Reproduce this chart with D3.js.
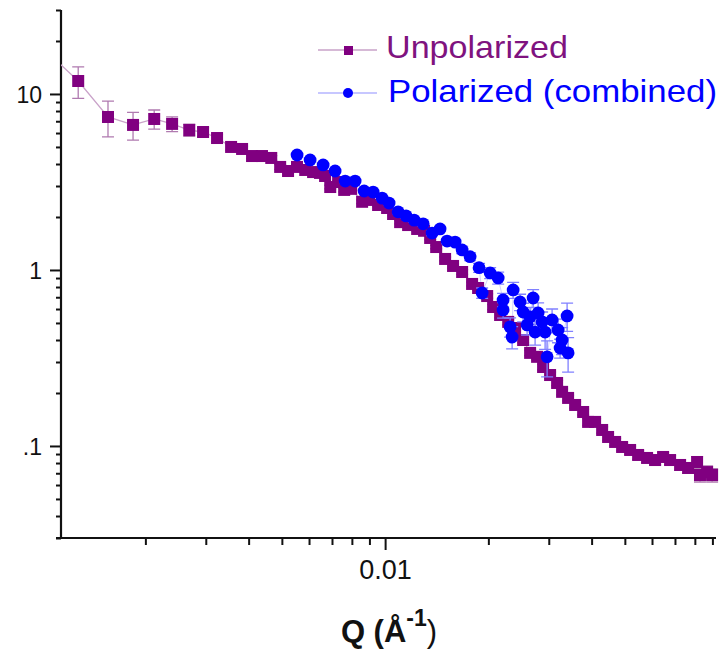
<!DOCTYPE html>
<html>
<head>
<meta charset="utf-8">
<script src="https://cdn.jsdelivr.net/npm/d3@7"></script>
<style>
  body { margin: 0; background: #fff; }
  svg { font-family: "Liberation Sans", Arial, sans-serif; }
</style>
</head>
<body>
<div id="chart"></div>
<script>
// Unpolarized SANS curve
const qUnpol = [0.001021, 0.001274, 0.001556, 0.001841, 0.002122, 0.002393, 0.002685, 0.002946, 0.003236, 0.003556,
  0.003828, 0.004093, 0.004375, 0.004656, 0.004943, 0.005212, 0.005534, 0.005848, 0.006166, 0.006457,
  0.006683, 0.006918, 0.007295, 0.007597, 0.007962, 0.008569, 0.00898, 0.00954, 0.010135, 0.01055,
  0.01106, 0.01167, 0.0124, 0.01299, 0.01353, 0.01409, 0.01496, 0.01578, 0.01677, 0.01793,
  0.01867, 0.01984, 0.02065, 0.02164, 0.02285, 0.02393, 0.02526, 0.02647, 0.02774, 0.02888,
  0.03027, 0.03173, 0.03281, 0.03416, 0.03581, 0.03779, 0.03907, 0.04095, 0.04293, 0.04468,
  0.04684, 0.04909, 0.0518, 0.05466, 0.05805, 0.06126, 0.06464, 0.06775, 0.07245, 0.07645,
  0.08121, 0.0828, 0.08686, 0.08982];
const iUnpol = [17.8, 11.85, 7.4, 6.67, 7.21, 6.76, 6.24, 6.08, 5.62, 5.0,
  4.87, 4.44, 4.44, 4.33, 3.85, 3.65, 3.85, 3.7, 3.6, 3.56,
  3.42, 2.96, 3.16, 2.85, 2.89, 2.44, 2.5, 2.34, 2.25, 2.08,
  1.87, 1.8, 1.71, 1.67, 1.52, 1.35, 1.155, 1.054, 0.974, 0.833,
  0.79, 0.711, 0.616, 0.555, 0.507, 0.468, 0.4, 0.338, 0.321, 0.281,
  0.253, 0.228, 0.203, 0.1875, 0.171, 0.156, 0.137, 0.137, 0.1233, 0.1125,
  0.1054, 0.0987, 0.0949, 0.0889, 0.0855, 0.0832, 0.0866, 0.0832, 0.078, 0.075,
  0.0811, 0.0684, 0.0711, 0.0684];
const errUnpol = [3.0, 2.4, 1.7, 1.2, 0.9, 0.65, 0.5, 0.35, 0.25, 0.2,
  0.18, 0.15, 0.14, 0.13, 0.12, 0.1, 0.1, 0.1, 0.09, 0.09,
  0.08, 0.07, 0.07, 0.07, 0.06, 0.06, 0.05, 0.05, 0.05, 0.05,
  0.04, 0.04, 0.04, 0.04, 0.03, 0.03, 0.03, 0.03, 0.03, 0.02,
  0.02, 0.02, 0.02, 0.02, 0.02, 0.015, 0.015, 0.012, 0.012, 0.01,
  0.01, 0.008, 0.008, 0.007, 0.007, 0.006, 0.006, 0.006, 0.005, 0.005,
  0.005, 0.005, 0.005, 0.005, 0.005, 0.005, 0.005, 0.005, 0.005, 0.005,
  0.006, 0.006, 0.006, 0.006];

// Polarized (combined) curve
const qPol = [0.005537, 0.006043, 0.006596, 0.007147, 0.007647, 0.008175, 0.008686, 0.009226, 0.0098, 0.01027,
  0.01091, 0.01151, 0.01215, 0.01291, 0.01371, 0.01446, 0.01516, 0.016, 0.01677, 0.01769,
  0.01879, 0.01918, 0.02024, 0.02136, 0.02208, 0.02208, 0.02314, 0.02346, 0.02362, 0.02475,
  0.02526, 0.02594, 0.02647, 0.02701, 0.02737, 0.02793, 0.02869, 0.02927, 0.02967, 0.03068,
  0.03194, 0.03237, 0.03281, 0.03393, 0.03416];
const iPol = [4.5, 4.22, 3.95, 3.65, 3.2, 3.2, 2.81, 2.77, 2.56, 2.4,
  2.14, 2.03, 1.92, 1.83, 1.62, 1.71, 1.46, 1.44, 1.3, 1.19,
  1.03, 0.74, 0.962, 0.901, 0.676, 0.593, 0.475, 0.416, 0.77, 0.658,
  0.577, 0.487, 0.541, 0.693, 0.444, 0.57, 0.507, 0.444, 0.321, 0.52,
  0.456, 0.36, 0.4, 0.548, 0.338];
const errPol = [0.08, 0.08, 0.07, 0.07, 0.06, 0.06, 0.06, 0.05, 0.05, 0.05,
  0.05, 0.05, 0.05, 0.05, 0.05, 0.06, 0.05, 0.05, 0.06, 0.06,
  0.06, 0.05, 0.07, 0.07, 0.06, 0.06, 0.06, 0.06, 0.08, 0.07,
  0.07, 0.06, 0.07, 0.08, 0.07, 0.08, 0.07, 0.09, 0.074, 0.08,
  0.07, 0.044, 0.07, 0.1, 0.075];

const seriesNames = ["Unpolarized", "Polarized (combined)"];
const xTickValues = [0.01];
const xTickLabels = ["0.01"];
const yTickValues = [0.1, 1, 10];
const yTickLabels = ["0.1", "1", "10"];

const purple = "#800080", blue = "#0000ff";

const svg = d3.select("#chart").append("svg")
    .attr("width", 725)
    .attr("height", 651);

const margin = {left: 61, right: 716, top: 10, bottom: 538};

const x = d3.scaleLog().domain([0.001135, 0.0922]).range([margin.left, margin.right]);
const y = d3.scaleLog().domain([0.03, 30]).range([margin.bottom, margin.top]);

svg.append("clipPath").attr("id", "plotclip")
  .append("rect")
    .attr("x", margin.left).attr("y", margin.top - 6)
    .attr("width", margin.right - margin.left + 6).attr("height", margin.bottom - margin.top + 6);

// the source figure is cropped on the left, cutting off the leading "0" of "0.1"
svg.append("clipPath").attr("id", "leftcrop")
  .append("rect")
    .attr("x", 23 - margin.left).attr("y", -60)
    .attr("width", 200).attr("height", 120);

// axes: minor ticks first, then major with labels
const xMinor = x.ticks().filter(function(d) { return xTickValues.indexOf(+d.toPrecision(3)) < 0; });
const yMinor = y.ticks().filter(function(d) { return yTickValues.indexOf(+d.toPrecision(3)) < 0; });

const xAxisMinor = svg.append("g")
    .attr("transform", "translate(0," + margin.bottom + ")")
    .call(d3.axisBottom(x).tickValues(xMinor).tickSize(7).tickFormat(""));
const xAxisMajor = svg.append("g")
    .attr("transform", "translate(0," + margin.bottom + ")")
    .call(d3.axisBottom(x).tickValues(xTickValues).tickSize(12).tickPadding(10)
      .tickFormat(function(d, i) { return xTickLabels[i]; }));

const yAxisMinor = svg.append("g")
    .attr("transform", "translate(" + margin.left + ",0)")
    .call(d3.axisLeft(y).tickValues(yMinor).tickSize(5).tickFormat(""));
const yAxisMajor = svg.append("g")
    .attr("transform", "translate(" + margin.left + ",0)")
    .call(d3.axisLeft(y).tickValues(yTickValues).tickSize(11).tickPadding(8)
      .tickFormat(function(d, i) { return yTickLabels[i]; }));

svg.selectAll(".domain").attr("stroke", "#111").attr("stroke-width", 2.2);
svg.selectAll(".tick line").attr("stroke", "#111").attr("stroke-width", 2);
xAxisMajor.selectAll("text").attr("font-size", 27).attr("fill", "#111")
    .attr("font-family", "Liberation Sans, Arial, sans-serif").attr("dy", "0.71em");
yAxisMajor.selectAll("text").attr("font-size", 23).attr("fill", "#111")
    .attr("font-family", "Liberation Sans, Arial, sans-serif").attr("dy", "0.35em");
yAxisMajor.selectAll(".tick").filter(function(d) { return d === 0.1; })
    .select("text").attr("clip-path", "url(#leftcrop)");
// extend x domain line slightly left like the original
xAxisMajor.select(".domain").attr("d", "M" + (margin.left - 5) + ",0H" + margin.right);
yAxisMajor.select(".domain").attr("d", "M0," + margin.top + "V" + margin.bottom);
xAxisMinor.select(".domain").remove();
yAxisMinor.select(".domain").remove();

// axis title
const title = svg.append("text")
    .attr("x", 389).attr("y", 642)
    .attr("text-anchor", "middle")
    .attr("font-size", 31).attr("font-weight", "bold").attr("fill", "#111");
title.append("tspan").text("Q (Å");
title.append("tspan").attr("font-size", 23).attr("dy", -16).text("-1");
title.append("tspan").attr("dy", 16).attr("font-weight", "normal").text(")");

const unpol = qUnpol.map(function(q, i) { return {q: q, v: iUnpol[i], e: errUnpol[i]}; });
const pol = qPol.map(function(q, i) { return {q: q, v: iPol[i], e: errPol[i]}; });

const plot = svg.append("g").attr("clip-path", "url(#plotclip)");

const line = d3.line()
    .x(function(d) { return x(d.q); })
    .y(function(d) { return y(d.v); });

plot.append("path").datum(unpol)
    .attr("fill", "none").attr("stroke", "#c9a2c9").attr("stroke-width", 1.3)
    .attr("d", line);
plot.append("path").datum(pol)
    .attr("fill", "none").attr("stroke", "#b4b4ff").attr("stroke-width", 1).attr("opacity", 0.6)
    .attr("d", line);

function errorBars(g, data, color, cap) {
  const eb = g.append("g").attr("stroke", color).attr("stroke-width", 1.3).attr("fill", "none");
  eb.selectAll("path").data(data).enter().append("path")
    .attr("d", function(d) {
      const cx = x(d.q), hi = y(d.v + d.e), lo = y(Math.max(d.v - d.e, 1e-4));
      return "M" + cx + "," + hi + "V" + lo +
        "M" + (cx - cap) + "," + hi + "H" + (cx + cap) +
        "M" + (cx - cap) + "," + lo + "H" + (cx + cap);
    });
}

errorBars(plot, unpol, "#b07ab0", 6);

plot.append("g").selectAll("rect").data(unpol).enter().append("rect")
    .attr("x", function(d) { return x(d.q) - 6; })
    .attr("y", function(d) { return y(d.v) - 6; })
    .attr("width", 12).attr("height", 12)
    .attr("fill", purple);

errorBars(plot, pol, "#8080ff", 6);

plot.append("g").selectAll("circle").data(pol).enter().append("circle")
    .attr("cx", function(d) { return x(d.q); })
    .attr("cy", function(d) { return y(d.v); })
    .attr("r", 6.4)
    .attr("fill", blue);

// legend
const legend = svg.append("g");
legend.append("line").attr("x1", 318).attr("x2", 377).attr("y1", 50).attr("y2", 50)
    .attr("stroke", "#c9a2c9").attr("stroke-width", 1.5);
legend.append("rect").attr("x", 344).attr("y", 46).attr("width", 9).attr("height", 9).attr("fill", purple);
legend.append("text").attr("x", 386).attr("y", 58)
    .attr("font-size", 32).attr("fill", "#7f137f")
    .attr("textLength", 182).attr("lengthAdjust", "spacingAndGlyphs")
    .text(seriesNames[0]);

legend.append("line").attr("x1", 318).attr("x2", 377).attr("y1", 93).attr("y2", 93)
    .attr("stroke", "#b4b4ff").attr("stroke-width", 1.5);
legend.append("circle").attr("cx", 348).attr("cy", 93).attr("r", 5).attr("fill", blue);
legend.append("text").attr("x", 388).attr("y", 102)
    .attr("font-size", 32).attr("fill", blue)
    .attr("textLength", 329).attr("lengthAdjust", "spacingAndGlyphs")
    .text(seriesNames[1]);
</script>
</body>
</html>
